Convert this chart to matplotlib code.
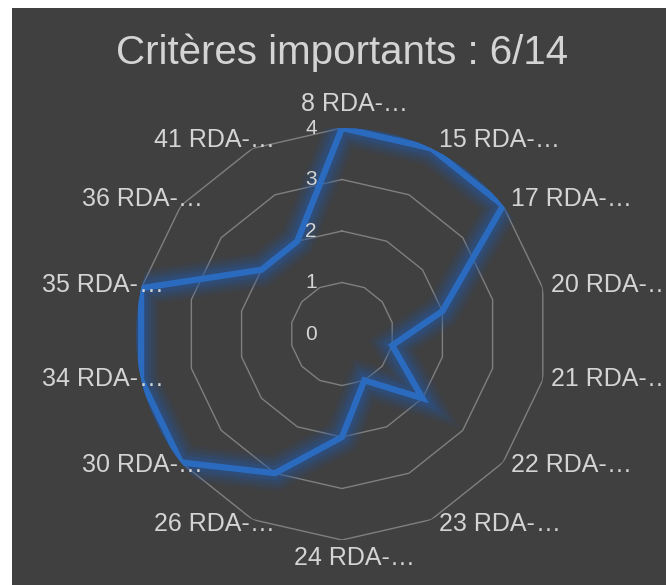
import numpy as np
import matplotlib
matplotlib.use("Agg")
import matplotlib.pyplot as plt
from matplotlib.patches import Rectangle

plt.rcParams['font.family'] = ['Liberation Sans', 'DejaVu Sans']

# data
categories = ['8 RDA-…', '15 RDA-…', '17 RDA-…', '20 RDA-…', '21 RDA-…',
              '22 RDA-…', '23 RDA-…', '24 RDA-…', '26 RDA-…', '30 RDA-…',
              '34 RDA-…', '35 RDA-…', '36 RDA-…', '41 RDA-…']
values = [4, 4, 4, 2, 1, 2, 1, 2, 3, 4, 4, 4, 2, 2]
rings = [0, 1, 2, 3, 4]
title = 'Critères importants : 6/14'

bg = '#404040'
txt = '#d4d4d4'
gridc = '#7f7f7f'
blue = '#2a6bbf'

fig = plt.figure(figsize=(6.66, 5.85), dpi=100, facecolor='white')
fig.patches.append(Rectangle((12/666, 0), 1, 577/585, transform=fig.transFigure,
                             facecolor=bg, edgecolor='none', zorder=-10))

ax = fig.add_axes([0.2042, 0.0769, 0.6186, 0.7043], projection='polar')
ax.set_facecolor('none')
ax.set_theta_zero_location('N')
ax.set_theta_direction(-1)
ax.grid(False)
ax.spines['polar'].set_visible(False)
ax.set_xticks([])
ax.set_yticks([])
ax.set_ylim(0, max(rings))

n = len(categories)
theta = np.linspace(0, 2*np.pi, n, endpoint=False)
theta_c = np.append(theta, theta[0])

# polygon grid
for r in rings[1:]:
    ax.plot(theta_c, [r]*(n+1), color=gridc, lw=1.0, zorder=1)

# glow + line
vals_c = np.append(values, values[0])
for lw, a in [(26, 0.08), (22, 0.10), (18, 0.13), (14, 0.18), (10, 0.28)]:
    ax.plot(theta_c, vals_c, color='#2658a0', lw=lw, alpha=a, solid_joinstyle='miter',
            solid_capstyle='butt', zorder=2)
ax.plot(theta_c, vals_c, color=blue, lw=4.5, solid_joinstyle='miter', zorder=3)

# radial value labels
for r in rings:
    ax.annotate(str(r), xy=(0, r), xytext=(-25, 0), textcoords='offset pixels',
                ha='right', va='center', color=txt, fontsize=15, annotation_clip=False,
                zorder=4)

# category labels, ellipsis hangs past the anchored part
for t, lab in zip(theta, categories):
    deg = np.degrees(t)
    main, tail = lab[:-1], lab[-1]
    dy = 2 + 7*np.cos(t)
    if deg < 1:
        ha, off = 'center', (0, 24)
    elif abs(deg - 180) < 1:
        ha, off = 'center', (0, -18)
    elif deg < 180:
        ha, off = 'left', (8, dy)
    else:
        ha, off = 'right', (-3, dy)
    t1 = ax.annotate(main, xy=(t, max(rings)), xytext=off, textcoords='offset pixels',
                     ha=ha, va='center', color=txt, fontsize=18, annotation_clip=False)
    ax.annotate(tail, xy=(1, 0), xycoords=t1, ha='left', va='bottom',
                color=txt, fontsize=18, annotation_clip=False)

fig.text(0.5135, 1 - 53/585, title, ha='center', va='center', color=txt, fontsize=29)

fig.savefig('out.png', dpi=100, facecolor=fig.get_facecolor())
